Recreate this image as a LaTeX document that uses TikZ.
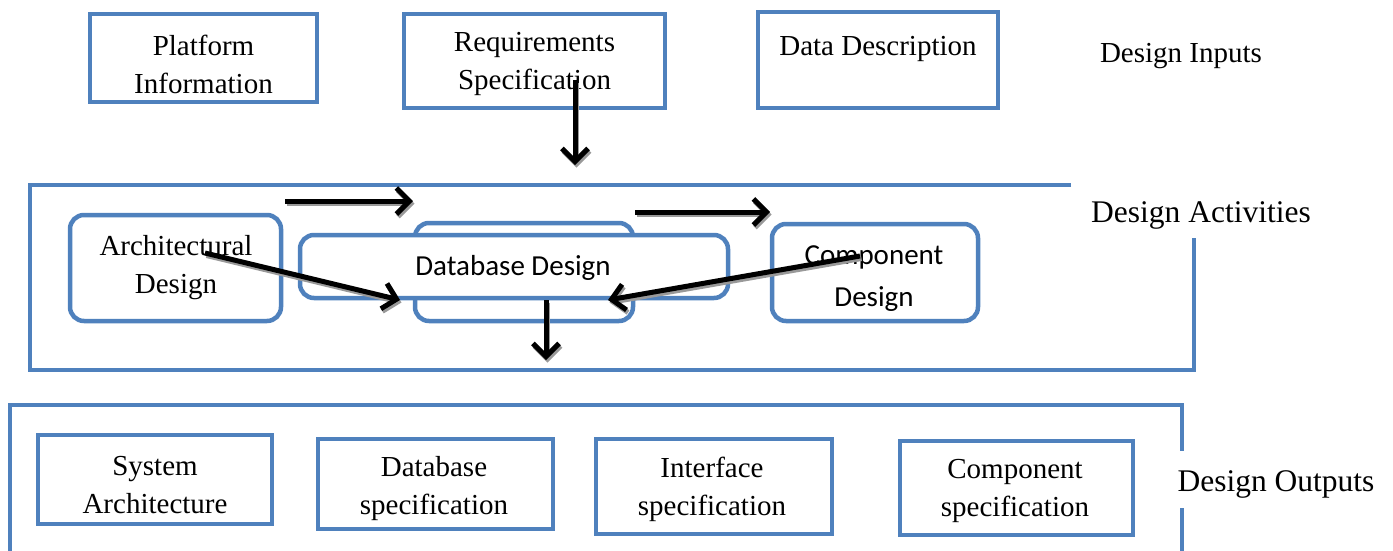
\documentclass[tikz,border=0pt]{standalone}
\usepackage{fontspec}
\setmainfont{Liberation Serif}
\newfontfamily\bodysans{Carlito}
\usetikzlibrary{arrows.meta}
\definecolor{frameblue}{RGB}{79,129,189}
\tikzset{
  sqbox/.style={draw=frameblue, line width=4.5pt, fill=white, inner sep=0pt},
  rdbox/.style={sqbox, rounded corners=14pt},
  lbl/.style={align=center, inner sep=0pt, font=\fontsize{29}{38}\selectfont},
  sanslbl/.style={align=center, inner sep=0pt, font=\bodysans\fontsize{29}{42}\selectfont},
  grouplbl/.style={inner sep=0pt, font=\fontsize{31.5}{38}\selectfont},
  frameline/.style={draw=frameblue, line width=4.5pt},
  flow/.style={line width=5pt, -{Straight Barb[length=13pt,width=26pt]},
    preaction={draw=black!40, line width=5pt, transform canvas={shift={(1.5,2.5)}}}}
}
\begin{document}
\begin{tikzpicture}[x=1pt,y=-1pt]
\useasboundingbox (0,0) rectangle (1393,550);

% ---------- design inputs ----------
\node[sqbox, minimum width=227pt, minimum height=88pt] (plat) at (203.5,58) {};
\node[lbl] (platT) at (203.5,64) {Platform\\Information};
\node[sqbox, minimum width=261pt, minimum height=94pt] (req) at (534.5,61) {};
\node[lbl] (reqT) at (534.5,64) {Requirements\\Specification};
\node[sqbox, minimum width=240pt, minimum height=96pt] (data) at (878,60) {};
\node[lbl] (dataT) at (878,49) {Data Description};
\node[grouplbl, font=\fontsize{29}{38}\selectfont] (inL) at (1181,56) {Design Inputs};

% ---------- design activities ----------
\draw[frameline] (1071,185) -- (30,185) -- (30,370) -- (1194,370) -- (1194,238);
\node[grouplbl] (actL) at (1201,215) {Design Activities};

\node[rdbox, minimum width=211pt, minimum height=106pt] (arch) at (175.5,268) {};
\node[lbl] (archT) at (176,268) {Architectural\\Design};
\node[rdbox, minimum width=218pt, minimum height=98pt] (dbback) at (524,272) {};
\node[rdbox, minimum width=428pt, minimum height=63pt] (db) at (514,266.5) {};
\node[sanslbl] (dbT) at (513,268) {Database Design};
\node[rdbox, minimum width=206pt, minimum height=97pt] (comp) at (875,272.5) {};
\node[sanslbl] (compT) at (874,279) {Component\\Design};

% arrow end points
\coordinate (reqA) at (575,80);   \coordinate (reqB) at (575,165);
\coordinate (topA) at (285,201);  \coordinate (topB) at (413,201);
\coordinate (midA) at (635,212);  \coordinate (midB) at (770,212);
\coordinate (arA)  at (205,253);  \coordinate (arB)  at (400,300);
\coordinate (cpA)  at (860,256);  \coordinate (cpB)  at (608,300);
\coordinate (dnA)  at (546,300);  \coordinate (dnB)  at (546,360);

\draw[flow] (reqA) -- (reqB);
\draw[flow] (topA) -- (topB);
\draw[flow] (midA) -- (midB);
\draw[flow] (arA) -- (arB);
\draw[flow] (cpA) -- (cpB);
\draw[flow] (dnA) -- (dnB);

% ---------- design outputs ----------
\draw[frameline] (10,552) -- (10,405) -- (1182,405) -- (1182,451);
\draw[frameline] (1182,508) -- (1182,552);
\node[grouplbl] (outL) at (1276,484) {Design Outputs};

\node[sqbox, minimum width=234pt, minimum height=89pt] (sys) at (155,479.5) {};
\node[lbl] (sysT) at (155,485) {System\\Architecture};
\node[sqbox, minimum width=235pt, minimum height=90pt] (dbs) at (435.5,484) {};
\node[lbl] (dbsT) at (434,489) {Database\\specification};
\node[sqbox, minimum width=236pt, minimum height=95pt] (ifs) at (714,486.5) {};
\node[lbl] (ifsT) at (712,489.5) {Interface\\specification};
\node[sqbox, minimum width=233pt, minimum height=94pt] (cps) at (1016.5,488) {};
\node[lbl] (cpsT) at (1015,491) {Component\\specification};
\end{tikzpicture}
\end{document}
